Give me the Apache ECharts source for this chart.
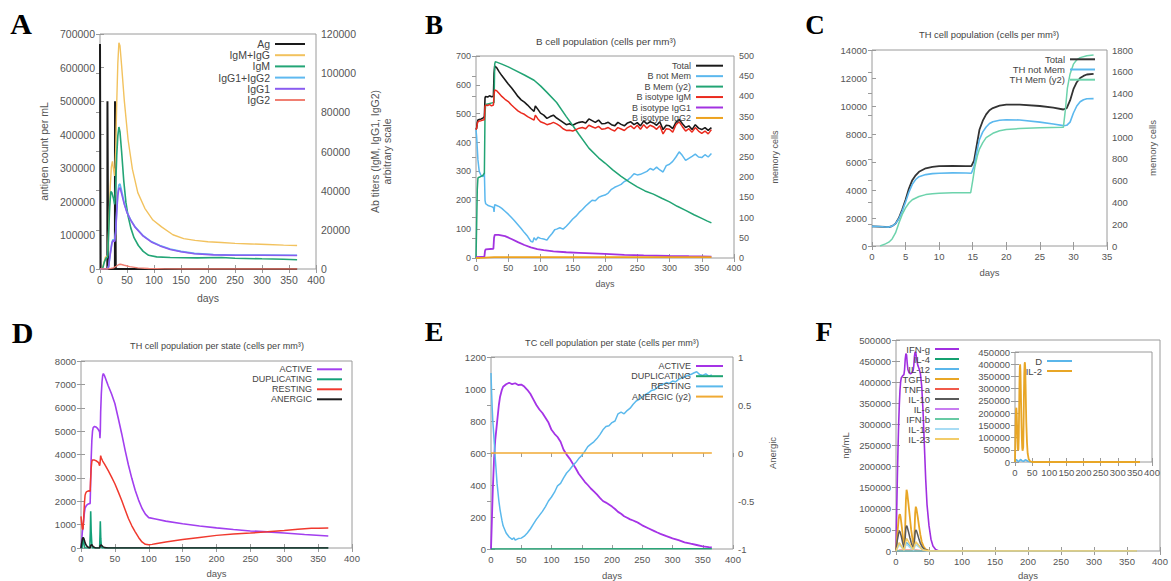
<!DOCTYPE html>
<html><head><meta charset="utf-8">
<script src="https://cdn.jsdelivr.net/npm/echarts@6/dist/echarts.min.js"></script>
<style>html,body{margin:0;padding:0;background:#fff}#c{width:1171px;height:581px}</style>
</head><body><div id="c"></div>
<script>
// ---------- Panel A: antigen & antibodies ----------
const A_Ag = [[0,670000],[0.6,300000],[1.2,0],[13.6,0],[13.8,500000],[14.5,250000],[15.2,0],[27.6,0],[27.8,500000],[28.5,250000],[29.2,0],[365,0]];
const A_IgMIgG = [[0,0],[4,300],[7,3000],[10,6000],[14,6800],[16,20000],[19,42000],[21,52000],[23,55000],[25,51000],[27,47500],[29,60000],[31,85000],[33,105000],[35,115500],[37,114000],[40,104000],[45,86000],[52,66000],[60,51000],[70,39000],[83,31000],[98,25000],[114,21500],[135,17500],[155,15500],[176,14600],[200,13900],[225,13500],[250,13100],[280,12800],[310,12500],[340,12200],[365,12000]];
const A_IgM = [[0,0],[5,300],[8,3500],[11,5500],[14,6000],[16,18000],[18,32000],[20,39500],[22,39000],[25,36000],[27,33000],[29,42000],[31,58000],[33,68000],[35,72500],[37,70000],[40,60000],[44,45000],[48,34000],[52,27000],[57,21000],[63,16000],[71,12000],[80,9000],[90,7000],[105,6200],[130,5900],[180,5700],[225,5900],[250,5500],[300,5200],[340,5000],[365,4700]];
const A_IgG12 = [[0,0],[14,200],[16,1500],[19,8000],[22,13500],[24,15000],[27,14500],[29,19000],[31,30000],[33,39000],[35,43000],[37,43500],[40,40000],[45,33500],[50,29000],[57,25000],[65,21500],[80,17000],[95,14000],[111,12000],[130,10200],[150,9000],[175,8000],[210,7400],[250,7100],[300,7100],[365,7000]];
const A_IgG1 = [[0,0],[14,200],[16,1400],[19,7500],[22,13000],[24,14500],[27,14000],[29,18500],[31,29000],[33,37500],[35,41000],[37,41500],[40,38500],[45,33000],[50,28800],[57,24800],[65,21300],[80,16800],[95,13800],[111,11800],[130,10000],[150,8800],[175,7800],[210,7200],[250,7000],[300,7000],[365,6900]];
const A_IgG2 = [[0,0],[14,0],[20,300],[25,600],[30,1400],[35,2300],[38,2400],[45,1900],[55,1200],[70,600],[90,250],[120,80],[160,0],[365,0]];

// ---------- Panel B: B cell population ----------
const B_Total = [[0,445],[1,450],[2,470],[3,478],[5,480],[8,482],[11,485],[13,490],[14,555],[15,560],[18,558],[21,562],[24,559],[27,560],[28,640],[29,665],[32,660],[36,645],[40,632],[45,618],[50,603],[55,590],[60,575],[65,560],[70,548],[75,540],[80,530],[85,518],[90,508],[92,527],[96,515],[100,502],[105,495],[110,484],[115,490],[120,495],[125,485],[130,478],[135,470],[140,462],[145,465],[150,460],[155,466],[160,470],[165,472],[170,468],[175,482],[180,476],[185,470],[190,478],[195,465],[200,466],[205,470],[210,462],[215,458],[220,470],[225,463],[230,458],[235,468],[240,472],[245,462],[250,469],[255,458],[260,475],[265,465],[270,472],[275,468],[280,460],[285,472],[290,445],[295,460],[300,458],[305,448],[310,470],[315,480],[320,465],[325,452],[330,458],[335,445],[340,462],[345,450],[350,445],[355,452],[360,442],[365,452]];
const B_NotMem = [[0,445],[1,420],[2,380],[3,340],[5,300],[8,285],[11,282],[13,295],[14,200],[15,188],[18,183],[21,180],[24,178],[27,175],[28,160],[29,185],[32,182],[36,178],[40,172],[45,162],[50,152],[55,140],[60,128],[65,115],[70,102],[75,88],[80,75],[85,58],[88,55],[90,70],[93,62],[96,72],[100,68],[105,66],[110,62],[113,72],[118,85],[122,98],[125,100],[130,105],[135,100],[140,110],[145,122],[150,135],[155,145],[160,158],[165,168],[170,180],[175,190],[180,200],[185,198],[190,210],[195,215],[200,218],[205,225],[210,238],[215,245],[220,250],[225,255],[230,265],[235,270],[240,280],[245,292],[250,288],[255,290],[260,295],[265,300],[270,310],[275,305],[280,315],[285,305],[290,298],[295,320],[300,325],[305,335],[310,350],[315,368],[320,355],[325,338],[330,345],[335,352],[340,360],[345,350],[350,348],[355,358],[360,350],[365,362]];
const B_Mem = [[0,0],[1,80],[2,170],[3,198],[5,200],[8,202],[11,205],[13,210],[14,360],[15,380],[20,382],[25,384],[28,385],[29,480],[30,486],[40,480],[50,473],[60,465],[75,453],[90,440],[100,426],[110,410],[125,385],[140,350],[150,328],[160,305],[175,272],[190,248],[200,235],[212,218],[225,202],[238,188],[250,176],[262,166],[275,158],[288,148],[300,139],[312,128],[325,118],[338,107],[350,98],[358,92],[365,87]];
const B_IgM = [[0,445],[1,450],[2,465],[3,472],[5,475],[8,476],[11,478],[13,480],[14,525],[15,530],[18,528],[21,532],[24,527],[27,530],[28,565],[29,582],[32,580],[36,570],[40,560],[45,550],[50,542],[55,530],[60,520],[65,510],[70,503],[75,498],[80,490],[85,484],[90,478],[92,495],[96,482],[100,472],[105,468],[110,462],[115,465],[120,470],[125,465],[130,458],[135,448],[140,442],[145,443],[150,440],[155,445],[160,450],[165,452],[170,448],[175,460],[180,455],[185,450],[190,456],[195,446],[200,448],[205,452],[210,445],[215,440],[220,452],[225,447],[230,442],[235,452],[240,458],[245,448],[250,460],[255,446],[260,462],[265,450],[270,460],[275,455],[280,446],[285,458],[290,430],[295,448],[300,446],[305,436],[310,462],[315,472],[320,455],[325,440],[330,448],[335,436],[340,452],[345,440],[350,432],[355,440],[360,430],[365,445]];
const B_IgG1 = [[0,3],[13,5],[14,25],[15,30],[27,32],[28,70],[29,80],[35,80],[45,76],[55,66],[65,55],[75,45],[85,37],[95,31],[105,27],[120,23],[140,20],[160,18],[180,16],[200,14],[230,11],[260,9],[300,7],[330,6],[365,5]];
const B_IgG2 = [[0,0],[14,1],[28,3],[365,3]];

// ---------- Panel C: TH cell population ----------
const C_Total = [[0,1400],[1,1390],[2,1360],[2.5,1350],[3,1420],[3.5,1600],[4,2000],[4.5,2600],[5,3300],[5.5,4100],[6,4700],[6.5,5050],[7,5300],[8,5550],[9,5650],[10,5700],[12,5720],[14,5710],[14.8,5700],[15.2,6100],[15.6,7200],[16,8300],[16.5,8950],[17,9400],[17.5,9700],[18,9850],[19,10020],[20,10100],[22,10100],[25,10000],[27,9880],[28.5,9750],[29,9850],[29.5,10400],[30,11200],[30.5,11700],[31,12000],[31.5,12150],[32,12250],[33,12300]];
const C_NotMem = [[0,1400],[1,1390],[2,1360],[2.5,1350],[3,1420],[3.5,1600],[4,1950],[4.5,2500],[5,3150],[5.5,3850],[6,4400],[6.5,4750],[7,4950],[8,5100],[9,5170],[10,5200],[12,5220],[14,5210],[14.8,5200],[15.2,5700],[15.6,6700],[16,7600],[16.5,8150],[17,8500],[17.5,8750],[18,8880],[19,8980],[20,9020],[22,9000],[25,8850],[27,8720],[28.5,8600],[29,8620],[29.5,8850],[30,9500],[30.5,10000],[31,10300],[31.5,10450],[32,10520],[33,10530]];
const C_Mem = [[1.2,0],[2,20],[2.5,35],[3,65],[3.5,120],[4,210],[4.5,290],[5,350],[5.5,395],[6,425],[7,455],[8,472],[9,480],[10,485],[12,488],[14,490],[14.7,490],[15,600],[15.3,720],[15.7,830],[16,890],[16.5,950],[17,995],[18,1035],[19,1058],[20,1070],[22,1078],[25,1085],[28.5,1090],[28.8,1250],[29.1,1450],[29.5,1580],[30,1670],[30.5,1710],[31,1730],[32,1748],[33,1755]];

// ---------- Panel D: TH cell population per state ----------
const D_Active = [[0,0],[1,300],[2,700],[3,900],[4,1200],[5,1500],[6,1700],[8,1820],[10,1870],[12,1900],[13.5,1900],[14,2500],[15,3800],[16,4600],[17,5000],[18,5150],[20,5200],[22,5180],[24,5130],[26,5050],[27.5,4950],[28,4700],[28.5,5000],[29,5800],[30,6600],[31,7100],[32,7380],[33,7460],[35,7350],[40,6950],[45,6600],[50,6180],[55,5550],[60,4900],[65,4200],[70,3550],[75,2980],[80,2470],[85,2050],[90,1700],[95,1450],[100,1300],[110,1240],[125,1150],[150,1040],[175,940],[200,860],[225,790],[250,730],[275,690],[300,640],[330,580],[365,515]];
const D_Dup = [[0,0],[1.5,0],[2.5,300],[3.2,470],[4,250],[5,60],[6,0],[13,0],[13.8,700],[14.3,1570],[15,700],[16,150],[17,0],[27.5,0],[28.1,600],[28.5,1140],[29.2,400],[30,80],[31,0],[365,0]];
const D_Resting = [[0,1350],[1,1050],[2,820],[3,800],[4,1300],[5,1900],[6,2250],[7,2350],[8,2400],[10,2430],[12,2450],[13.5,2420],[14,2800],[15,3400],[16,3700],[17,3770],[20,3760],[23,3720],[26,3650],[27.5,3520],[28,3600],[29,3950],[30,3850],[32,3720],[35,3580],[40,3320],[45,3040],[50,2750],[55,2400],[60,2040],[65,1650],[70,1260],[75,950],[80,690],[85,450],[90,260],[95,160],[100,140],[105,155],[110,185],[125,260],[150,360],[175,450],[200,540],[225,600],[250,640],[275,690],[300,750],[320,800],[340,840],[350,850],[365,860]];
const D_Anergic = [[0,0],[1,200],[2,380],[3,440],[4,420],[5,330],[6,220],[8,100],[10,40],[12,10],[13.5,0],[14.5,120],[16,140],[18,60],[20,20],[22,0],[27.5,0],[28.5,110],[30,130],[32,60],[35,15],[40,0],[365,0]];

// ---------- Panel E: TC cell population per state ----------
const E_Active = [[0,0],[1,120],[2,250],[3,372],[5,560],[7,680],[10,790],[13,900],[15,952],[18,995],[20,1014],[25,1030],[30,1039],[35,1030],[40,1036],[45,1025],[50,1028],[55,1015],[60,995],[65,970],[70,935],[75,900],[80,872],[85,850],[90,820],[95,790],[100,745],[105,720],[110,700],[115,670],[120,620],[125,590],[130,565],[135,535],[140,505],[145,470],[150,445],[155,420],[160,400],[165,378],[170,360],[175,341],[180,320],[185,300],[190,290],[195,278],[200,265],[205,250],[210,232],[215,220],[220,205],[225,195],[230,185],[235,178],[240,170],[245,160],[250,148],[260,130],[270,112],[275,103],[280,95],[290,80],[300,66],[310,55],[320,42],[330,33],[340,25],[350,17],[360,12],[365,10]];
const E_Dup = [[0,0],[365,2]];
const E_Resting = [[0,1100],[1,980],[2,880],[3,800],[5,690],[7,570],[10,410],[13,300],[15,245],[18,180],[20,145],[25,100],[30,75],[35,60],[38,70],[40,55],[45,65],[50,68],[55,80],[60,100],[65,125],[70,155],[75,185],[80,210],[85,235],[90,265],[95,300],[100,325],[105,355],[110,395],[115,410],[120,445],[125,475],[130,495],[135,520],[140,540],[145,565],[150,585],[155,610],[160,640],[165,655],[170,670],[175,690],[180,715],[185,745],[190,765],[195,770],[200,790],[205,800],[210,845],[215,855],[220,845],[225,865],[230,880],[235,905],[240,925],[245,935],[250,950],[255,965],[260,975],[265,990],[270,995],[275,1010],[280,1025],[285,1030],[290,1040],[295,1035],[300,1050],[305,1045],[310,1060],[315,1070],[320,1075],[325,1085],[330,1090],[335,1100],[340,1108],[345,1090],[350,1085],[355,1095],[360,1080],[365,1088]];
const E_Anergic = [[0,0],[365,0]];

// ---------- Panel F: cytokines ----------
const F_IFNg = [[0,0],[1,90000],[2,170000],[3,240000],[4,300000],[5,345000],[6,380000],[7,400000],[8,410000],[10,415000],[12,418000],[13,430000],[14,455000],[15,468000],[16,465000],[17,445000],[18,430000],[20,422000],[22,420000],[24,422000],[26,428000],[27,440000],[28,462000],[29,472000],[30,470000],[31,458000],[33,440000],[35,432000],[37,420000],[39,390000],[41,330000],[43,250000],[45,170000],[47,110000],[50,60000],[53,28000],[56,12000],[60,3500],[65,0],[365,0]];
const F_IL4 = [[0,0],[365,0]];
const F_IL12 = [[0,0],[2,10000],[4,17000],[5,18000],[7,14000],[10,7000],[12,3000],[13.5,8000],[15,19000],[16,20000],[18,17000],[21,12000],[24,6000],[27,3000],[28,12000],[29,19000],[30,20000],[32,17000],[35,12000],[38,7000],[42,2500],[48,0],[365,0]];
const F_TGFb = [[0,0],[2,40000],[4,75000],[5,85000],[6,87000],[7,80000],[9,55000],[11,25000],[12.5,8000],[13.5,30000],[15,120000],[16,145000],[17,138000],[19,110000],[21,80000],[23,50000],[25,28000],[27,10000],[28,40000],[29,90000],[30,105000],[31,100000],[33,80000],[35,58000],[37,38000],[39,22000],[42,10000],[45,4000],[50,1000],[55,0],[365,0]];
const F_TNFa = [[0,0],[5,1500],[16,2000],[30,1800],[45,0],[365,0]];
const F_IL10 = [[0,0],[2,25000],[4,42000],[5,47000],[6,46000],[8,35000],[10,20000],[12,8000],[13.5,20000],[15,55000],[16,60000],[17,57000],[19,45000],[21,32000],[23,20000],[25,10000],[27,6000],[28,25000],[29,45000],[30,50000],[31,48000],[33,38000],[35,27000],[37,18000],[40,9000],[44,3000],[50,0],[365,0]];
const F_IL6 = [[0,0],[365,0]];
const F_IFNb = [[0,0],[365,0]];
const F_IL18 = [[0,0],[3,9000],[5,14000],[8,10000],[12,2000],[15,14000],[16,16000],[20,10000],[27,2000],[29,14000],[30,15000],[35,9000],[42,2000],[48,0],[365,0]];
const F_IL23 = [[0,0],[5,20000],[12,2000],[16,30000],[26,3000],[30,22000],[40,3000],[50,0],[365,0]];
const Fi_D = [[0,0],[2,8000],[4,10000],[7,5000],[10,3000],[13,4000],[15,9000],[17,10000],[20,5000],[25,3000],[28,6000],[30,9000],[33,7000],[38,3000],[45,500],[50,0],[365,0]];
const Fi_IL2 = [[0,0],[1,90000],[2,170000],[3,215000],[4,222000],[5,200000],[6,150000],[7,95000],[8,58000],[9,48000],[10,52000],[11,100000],[12,210000],[13,320000],[14,385000],[15,400000],[16,370000],[17,300000],[18,220000],[19,150000],[20,95000],[21,60000],[22,46000],[23,44000],[24,60000],[25,150000],[26,270000],[27,360000],[28,400000],[29,408000],[30,380000],[31,310000],[32,230000],[33,160000],[35,80000],[37,35000],[40,12000],[44,3000],[50,0],[365,0]];

// ---------- build ----------
const FONT = '"Liberation Sans", Arial, sans-serif';
const TXT = '#555', AX = '#9a9a9a';
const grids = [], xAxes = [], yAxes = [], series = [], legends = [], graphics = [];
const fmt = v => String(v);

function ax(fs) {
  return {
    axisLine: { show: false },
    axisTick: { show: true, inside: true, length: 4, lineStyle: { color: AX } },
    splitLine: { show: false },
    axisLabel: { color: TXT, fontSize: fs, fontFamily: FONT, margin: 5, formatter: fmt, showMinLabel: true, showMaxLabel: true },
    nameTextStyle: { color: TXT, fontSize: fs, fontFamily: FONT }
  };
}
function panel(p) {
  const gi = grids.length;
  grids.push({ left: p.l, top: p.t, width: p.w, height: p.h, show: true, borderColor: AX, borderWidth: 1, backgroundColor: p.bg || 'transparent' });
  const xi = xAxes.length;
  xAxes.push(Object.assign(ax(p.fs), { type: 'value', gridIndex: gi, position: 'bottom', min: p.x[0], max: p.x[1], interval: p.x[2],
    name: p.xName || '', nameLocation: 'middle', nameGap: p.xGap || 20 }));
  xAxes.push(Object.assign(ax(p.fs), { type: 'value', gridIndex: gi, position: 'top', min: p.x[0], max: p.x[1], interval: p.x[2], axisLabel: { show: false } }));
  const yi = yAxes.length;
  yAxes.push(Object.assign(ax(p.fs), { type: 'value', gridIndex: gi, position: 'left', min: p.y[0], max: p.y[1], interval: p.y[2],
    name: p.yName || '', nameLocation: 'middle', nameRotate: 90, nameGap: p.yGap || 40 }));
  if (p.y2) {
    const a = Object.assign(ax(p.fs), { type: 'value', gridIndex: gi, position: 'right', min: p.y2[0], max: p.y2[1], interval: p.y2[2],
      name: p.y2Name || '', nameLocation: 'middle', nameRotate: 90, nameGap: p.y2Gap || 40 });
    if (p.y2Lh) a.nameTextStyle.lineHeight = p.y2Lh;
    yAxes.push(a);
  } else {
    yAxes.push(Object.assign(ax(p.fs), { type: 'value', gridIndex: gi, position: 'right', min: p.y[0], max: p.y[1], interval: p.y[2], axisLabel: { show: false } }));
  }
  return { xi, y1: yi, y2: yi + 1 };
}
function line(name, data, P, y, color, width) {
  series.push({ type: 'line', name, data, xAxisIndex: P.xi, yAxisIndex: y === 2 ? P.y2 : P.y1, showSymbol: false, symbol: 'none',
    color, lineStyle: { color, width: width || 1.5 }, animation: false, silent: true, clip: true });
  return name;
}
function legend(names, right, top, fs, lh, iw, gap) {
  legends.push({ orient: 'vertical', align: 'right', right, top, padding: 0, itemGap: gap, itemWidth: iw, itemHeight: 2, icon: 'rect',
    selectedMode: false, data: names, formatter: n => n.split('|')[1],
    textStyle: { color: '#444', fontSize: fs, fontFamily: FONT, lineHeight: lh } });
}
function text(t, x, y, font, color) {
  graphics.push({ type: 'text', x, y, silent: true, style: { text: t, font, fill: color || '#000', textAlign: 'center', textVerticalAlign: 'middle', align: 'center', verticalAlign: 'middle' } });
}

// A
const PA = panel({ l: 100, t: 34, w: 216, h: 235, fs: 10.5, x: [0, 400, 50], y: [0, 700000, 100000], y2: [0, 120000, 20000],
  xName: 'days', xGap: 23, yName: 'antigen count per mL', yGap: 51, y2Name: 'Ab titers (IgM, IgG1, IgG2)\narbitrary scale', y2Gap: 53, y2Lh: 12 });
legend([
  line('A|Ag', A_Ag, PA, 1, '#1a1a1a', 2),
  line('A|IgM+IgG', A_IgMIgG, PA, 2, '#f2c25e', 1.4),
  line('A|IgM', A_IgM, PA, 2, '#23a576', 1.6),
  line('A|IgG1+IgG2', A_IgG12, PA, 2, '#5fb9f0', 1.6),
  line('A|IgG1', A_IgG1, PA, 2, '#8a5cf0', 1.6),
  line('A|IgG2', A_IgG2, PA, 2, '#f07f72', 1.4)
], 866, 38.5, 10.5, 11, 30, 0.2);

// B
const PB = panel({ l: 476, t: 56, w: 258, h: 202, fs: 9, x: [0, 400, 50], y: [0, 700, 100], y2: [0, 500, 50],
  xName: 'days', xGap: 21, y2Name: 'memory cells', y2Gap: 36 });
legend([
  line('B|Total', B_Total, PB, 1, '#1a1a1a', 1.6),
  line('B|B not Mem', B_NotMem, PB, 1, '#5bb8ee', 1.5),
  line('B|B Mem (y2)', B_Mem, PB, 2, '#22a474', 1.5),
  line('B|B isotype IgM', B_IgM, PB, 1, '#ea2a1e', 1.5),
  line('B|B isotype IgG1', B_IgG1, PB, 1, '#a233e0', 1.8),
  line('B|B isotype IgG2', B_IgG2, PB, 1, '#eda21e', 1.8)
], 448, 60.7, 9, 10, 27, 0.45);
text('B cell population (cells per mm³)', 606, 41, '9.8px ' + FONT, '#444');

// C
const PC = panel({ l: 872, t: 50, w: 235, h: 196, fs: 9.5, x: [0, 35, 5], y: [0, 14000, 2000], y2: [0, 1800, 200],
  xName: 'days', xGap: 21, y2Name: 'memory cells', y2Gap: 40 });
legend([
  line('C|Total', C_Total, PC, 1, '#333333', 1.8),
  line('C|TH not Mem', C_NotMem, PC, 1, '#5bb8ee', 1.6),
  line('C|TH Mem (y2)', C_Mem, PC, 2, '#6dd3ac', 1.5)
], 76, 54.3, 9.5, 10, 25, 0.2);
text('TH cell population (cells per mm³)', 989, 34, '9.4px ' + FONT, '#444');

// D
const PD = panel({ l: 81, t: 361, w: 271, h: 187, fs: 9.5, x: [0, 400, 50], y: [0, 8000, 1000], xName: 'days', xGap: 20 });
legend([
  line('D|ACTIVE', D_Active, PD, 1, '#a23fef', 1.6),
  line('D|DUPLICATING', D_Dup, PD, 1, '#14a079', 1.6),
  line('D|RESTING', D_Resting, PD, 1, '#f0392e', 1.5),
  line('D|ANERGIC', D_Anergic, PD, 1, '#1e1e1e', 1.6)
], 829, 364.3, 9, 10, 25, 0);
text('TH cell population per state (cells per mm³)', 217, 346, '9.1px ' + FONT, '#444');

// E
const PE = panel({ l: 491, t: 357, w: 242, h: 193, fs: 9.5, x: [0, 400, 50], y: [0, 1200, 200], y2: [-1, 1, 0.5],
  xName: 'days', xGap: 21, y2Name: 'Anergic', y2Gap: 34 });
legend([
  line('E|ACTIVE', E_Active, PE, 1, '#a533e6', 1.8),
  line('E|DUPLICATING', E_Dup, PE, 1, '#1ea372', 1.5),
  line('E|RESTING', E_Resting, PE, 1, '#5bb9ec', 1.5),
  line('E|ANERGIC (y2)', E_Anergic, PE, 2, '#f0aa34', 1.5)
], 448, 361, 9, 10, 27, 0.2);
text('TC cell population per state (cells per mm³)', 612, 343, '9.1px ' + FONT, '#444');

// F main
const PF = panel({ l: 896, t: 340, w: 264, h: 212, fs: 9.5, x: [0, 400, 50], y: [0, 500000, 50000],
  xName: 'days', xGap: 19, yName: 'ng/mL', yGap: 46 });
legend([
  line('F|IFN-g', F_IFNg, PF, 1, '#a02fe0', 1.6),
  line('F|IL-4', F_IL4, PF, 1, '#14a070', 1.5),
  line('F|IL-12', F_IL12, PF, 1, '#5ab6ea', 1.5),
  line('F|TGF-b', F_TGFb, PF, 1, '#e8a626', 1.8),
  line('F|TNF-a', F_TNFa, PF, 1, '#f05a4a', 1.5),
  line('F|IL-10', F_IL10, PF, 1, '#5a5a5a', 1.5),
  line('F|IL-6', F_IL6, PF, 1, '#c77cf0', 1.5),
  line('F|IFN-b', F_IFNb, PF, 1, '#68caa4', 1.5),
  line('F|IL-18', F_IL18, PF, 1, '#a8dcf4', 1.5),
  line('F|IL-23', F_IL23, PF, 1, '#f2cc6a', 1.5)
], 212, 344, 9.5, 10, 24, 0);

// F inset
const PFi = panel({ l: 1015, t: 352, w: 137, h: 110, fs: 9.5, x: [0, 400, 50], y: [0, 450000, 50000], bg: '#fff' });
legend([
  line('Fi|D', Fi_D, PFi, 1, '#5ab6ea', 1.6),
  line('Fi|IL-2', Fi_IL2, PFi, 1, '#e8a626', 1.8)
], 99, 356, 9.5, 10, 25, 0);

// panel letters
const LF = '"Liberation Serif", "Times New Roman", serif';
text('A', 21, 23.5, 'bold 30px ' + LF);
text('B', 434, 25, 'bold 27px ' + LF);
text('C', 815, 24.5, 'bold 27px ' + LF);
text('D', 22.5, 332, 'bold 30px ' + LF);
text('E', 434, 331.5, 'bold 28px ' + LF);
text('F', 824, 331.5, 'bold 28px ' + LF);

const chart = echarts.init(document.getElementById('c'), null, { renderer: 'svg' });
chart.setOption({
  animation: false,
  backgroundColor: '#fff',
  grid: grids, xAxis: xAxes, yAxis: yAxes, series, legend: legends, graphic: graphics
});
</script></body></html>
